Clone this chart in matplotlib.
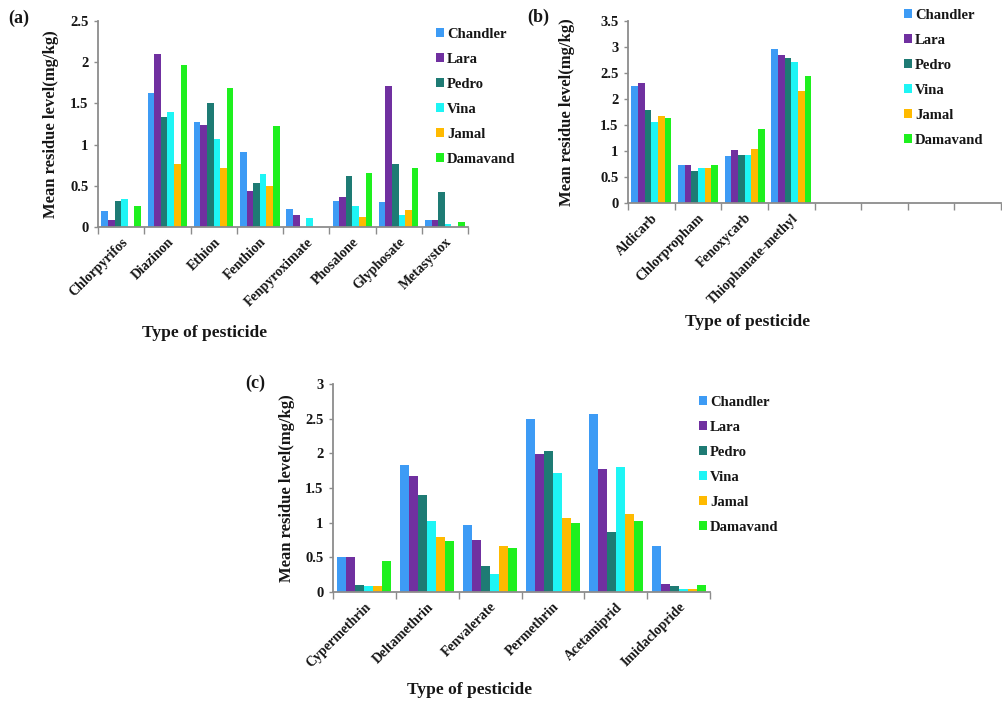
import numpy as np
import matplotlib
matplotlib.use("Agg")
from matplotlib import pyplot as plt
from matplotlib.patches import Patch

plt.rcParams['font.family'] = ['Liberation Serif', 'DejaVu Serif']
plt.rcParams['font.weight'] = 'bold'

sites = ["Chandler", "Lara", "Pedro", "Vina", "Jamal", "Damavand"]
colors = ["#3d9bf5", "#7030a0", "#1e7b74", "#1ef5f5", "#ffba00", "#1ef01e"]

# panel (a)
pest_a = ["Chlorpyrifos", "Diazinon", "Ethion", "Fenthion", "Fenpyroximate",
          "Phosalone", "Glyphosate", "Metasystox"]
chandler_a = [0.20, 1.63, 1.28, 0.91, 0.22, 0.32, 0.30, 0.08]
lara_a = [0.09, 2.10, 1.24, 0.44, 0.14, 0.36, 1.71, 0.08]
pedro_a = [0.32, 1.34, 1.50, 0.54, 0.0, 0.62, 0.77, 0.43]
vina_a = [0.34, 1.40, 1.07, 0.64, 0.11, 0.26, 0.145, 0.04]
jamal_a = [0.0, 0.77, 0.71, 0.50, 0.0, 0.125, 0.21, 0.0]
damavand_a = [0.26, 1.97, 1.69, 1.23, 0.0, 0.66, 0.71, 0.06]

# panel (b)
pest_b = ["Aldicarb", "Chlorpropham", "Fenoxycarb", "Thiophanate-methyl", "", "", "", ""]
chandler_b = [2.25, 0.74, 0.90, 2.96]
lara_b = [2.31, 0.74, 1.01, 2.84]
pedro_b = [1.78, 0.62, 0.93, 2.78]
vina_b = [1.55, 0.68, 0.93, 2.72]
jamal_b = [1.67, 0.68, 1.04, 2.16]
damavand_b = [1.64, 0.74, 1.42, 2.44]

# panel (c)
pest_c = ["Cypermethrin", "Deltamethrin", "Fenvalerate", "Permethrin",
          "Acetamiprid", "Imidaclopride"]
chandler_c = [0.51, 1.83, 0.97, 2.50, 2.57, 0.66]
lara_c = [0.51, 1.68, 0.75, 1.99, 1.78, 0.12]
pedro_c = [0.10, 1.40, 0.37, 2.04, 0.86, 0.08]
vina_c = [0.08, 1.02, 0.26, 1.71, 1.81, 0.05]
jamal_c = [0.08, 0.79, 0.66, 1.07, 1.12, 0.05]
damavand_c = [0.45, 0.73, 0.63, 1.00, 1.02, 0.10]

W, H = 1002, 705
fig = plt.figure(figsize=(W / 100, H / 100), dpi=100)
txt = "#161616"
axcol = "#8c8c8c"


def box(l, r, t, b):
    return [l / W, (H - b) / H, (r - l) / W, (b - t) / H]


def panel(rect, cats, series, ymax, ylab_x):
    ax = fig.add_axes(rect)
    n = len(cats)
    x = np.arange(n)
    bw = 1 / 7
    for i, vals in enumerate(series):
        xs = np.arange(len(vals)) + (i - 2.5) * bw
        ax.bar(xs, vals, width=bw, color=colors[i], linewidth=0)
    ax.set_xlim(-0.5, n - 0.5)
    ax.set_ylim(0, ymax)
    ax.set_yticks(np.arange(0, ymax + 0.01, 0.5))
    ax.set_yticklabels(["%g" % v for v in np.arange(0, ymax + 0.01, 0.5)],
                       fontsize=10.5, color=txt)
    ax.set_xticks(np.arange(n + 1) - 0.5)
    ax.set_xticklabels([])
    ax.set_xticks(x, minor=True)
    ax.set_xticklabels(cats, minor=True, rotation=45, ha='right',
                       rotation_mode='anchor', fontsize=10, color=txt)
    ax.tick_params(axis='x', which='minor', length=0, pad=6)
    ax.tick_params(axis='x', which='major', length=5, color=axcol, width=1)
    ax.tick_params(axis='y', length=3, color=axcol, width=1, pad=4)
    for s in ['top', 'right']:
        ax.spines[s].set_visible(False)
    for s in ['left', 'bottom']:
        ax.spines[s].set_color(axcol)
        ax.spines[s].set_linewidth(1.3)
    ax.set_ylabel("Mean residue level(mg/kg)", fontsize=12, fontweight='bold', color=txt)
    ax.yaxis.set_label_coords(ylab_x, 0.5)
    return ax


handles = [Patch(facecolor=c, edgecolor='none') for c in colors]


def legend(x, y):
    fig.legend(handles, sites, loc='upper left', bbox_to_anchor=(x / W, 1 - y / H),
               frameon=False, fontsize=10.5, handlelength=0.55, handleheight=0.55,
               handletextpad=0.2, labelspacing=0.82, borderpad=0, borderaxespad=0,
               labelcolor=txt)


panel(box(98, 468, 21, 227),
      pest_a, [chandler_a, lara_a, pedro_a, vina_a, jamal_a, damavand_a], 2.5, -0.105)
panel(box(628, 1001, 21, 203),
      pest_b, [chandler_b, lara_b, pedro_b, vina_b, jamal_b, damavand_b], 3.5, -0.142)
panel(box(333, 710, 384, 592),
      pest_c, [chandler_c, lara_c, pedro_c, vina_c, jamal_c, damavand_c], 3.0, -0.10)

legend(436, 28)
legend(904, 9)
legend(699, 396)

fig.text(8 / W, 1 - 18 / H, "(a)", fontsize=13, color=txt, va='center')
fig.text(527 / W, 1 - 17 / H, "(b)", fontsize=13, color=txt, va='center')
fig.text(245 / W, 1 - 383 / H, "(c)", fontsize=13, color=txt, va='center')

fig.text(205 / W, 1 - 333 / H, "Type of pesticide", fontsize=12.5, color=txt,
         ha='center', va='center')
fig.text(748 / W, 1 - 322 / H, "Type of pesticide", fontsize=12.5, color=txt,
         ha='center', va='center')
fig.text(470 / W, 1 - 690 / H, "Type of pesticide", fontsize=12.5, color=txt,
         ha='center', va='center')

fig.savefig("out.png", dpi=100)
